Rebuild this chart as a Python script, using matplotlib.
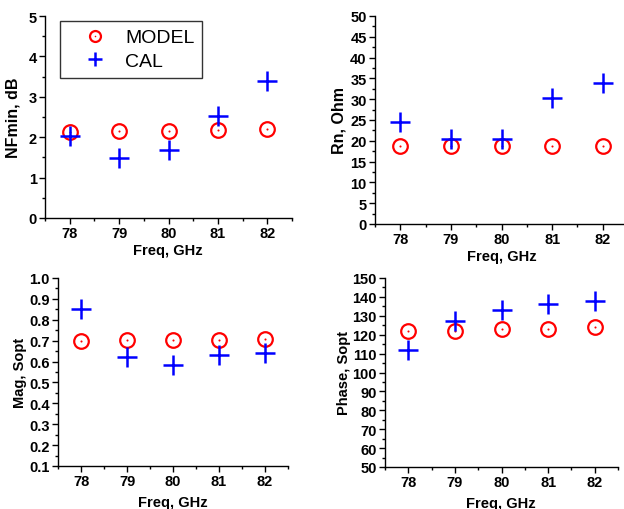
import matplotlib
matplotlib.use("Agg")
import matplotlib.pyplot as plt
from matplotlib.ticker import MultipleLocator, FormatStrFormatter

plt.rcParams['font.family'] = ['Liberation Sans', 'DejaVu Sans']
plt.rcParams['font.weight'] = 'bold'

freq = [78, 79, 80, 81, 82]
nf_model = [2.13, 2.15, 2.16, 2.19, 2.21]
nf_cal = [2.02, 1.49, 1.68, 2.53, 3.40]
rn_model = [18.8, 18.8, 18.8, 18.8, 18.8]
rn_cal = [24.5, 20.5, 20.5, 30.4, 34.0]
mag_model = [0.700, 0.703, 0.703, 0.704, 0.708]
mag_cal = [0.852, 0.620, 0.583, 0.630, 0.640]
ph_model = [122.1, 122.1, 123.2, 123.2, 124.1]
ph_cal = [112.1, 127.1, 132.9, 136.1, 138.0]

panels = [
    dict(model=nf_model, cal=nf_cal, ylabel='NFmin, dB', ylim=(0, 5), major=1, minor=0.5, fmt='%d',
         rect=[45/624, 1-219/510, (292-45)/624, 202/510], ylx=13, xly=251, ylsize=11.5),
    dict(model=rn_model, cal=rn_cal, ylabel='Rn, Ohm', ylim=(0, 50), major=5, minor=2.5, fmt='%d',
         rect=[375/624, 1-225/510, (628-375)/624, 208/510], ylx=339, xly=257, ylsize=11.5),
    dict(model=mag_model, cal=mag_cal, ylabel='Mag, Sopt', ylim=(0.1, 1.0), major=0.1, minor=0.05, fmt='%.1f',
         rect=[58/624, 1-467/510, (288-58)/624, 188/510], ylx=20, xly=503, ylsize=10.5),
    dict(model=ph_model, cal=ph_cal, ylabel='Phase, Sopt', ylim=(50, 150), major=10, minor=5, fmt='%d',
         rect=[385/624, 1-468/510, (618-385)/624, 189/510], ylx=344, xly=504, ylsize=10.5),
]
xlabel_x = [168, 502, 173, 501]

fig = plt.figure(figsize=(6.24, 5.10), dpi=100)
for i, p in enumerate(panels):
    ax = fig.add_axes(p['rect'])
    circ, = ax.plot(freq, p['model'], linestyle='none', marker='o', ms=10.5, mfc='none',
                    mec='#ff0000', mew=1.6, clip_on=False)
    dot, = ax.plot(freq, p['model'], linestyle='none', marker='o', ms=1.5, mfc='#ff0000',
                   mec='#ff0000', mew=0, clip_on=False)
    plus, = ax.plot(freq, p['cal'], linestyle='none', marker='+', ms=14, mec='#0000ff',
                    mew=1.8, clip_on=False)
    ax.set_xlim(77.5, 82.5)
    ax.set_ylim(*p['ylim'])
    ax.xaxis.set_major_locator(MultipleLocator(1))
    ax.xaxis.set_minor_locator(MultipleLocator(0.5))
    ax.yaxis.set_major_locator(MultipleLocator(p['major']))
    ax.yaxis.set_minor_locator(MultipleLocator(p['minor']))
    ax.yaxis.set_major_formatter(FormatStrFormatter(p['fmt']))
    ax.spines['top'].set_visible(False)
    ax.spines['right'].set_visible(False)
    for s in ('left', 'bottom'):
        ax.spines[s].set_linewidth(1.0)
    ax.tick_params(which='major', direction='out', length=4, width=1, labelsize=10.5, pad=2)
    ax.tick_params(which='minor', direction='out', length=2, width=1)
    for lab in ax.get_xticklabels() + ax.get_yticklabels():
        lab.set_fontweight('bold')
    fig.text(p['ylx']/624, p['rect'][1] + p['rect'][3]/2,
             p['ylabel'], rotation=90, ha='center', va='center', fontsize=p['ylsize'], fontweight='bold')
    fig.text(xlabel_x[i]/624, 1 - p['xly']/510, 'Freq, GHz', ha='center', va='center',
             fontsize=10.5, fontweight='bold')
    if i == 0:
        leg = fig.legend([(circ, dot), plus], ['MODEL', 'CAL'], loc='upper left',
                         bbox_to_anchor=(60/624, 1-22/510), bbox_transform=fig.transFigure,
                         frameon=True, fancybox=False, edgecolor='#333333', borderaxespad=0,
                         prop=dict(size=14, weight='normal'), handlelength=2.8, handletextpad=0.15,
                         borderpad=0.4, labelspacing=0.3, markerscale=0.75, framealpha=1)
        leg.get_frame().set_linewidth(1.0)

fig.savefig('out.png', dpi=100)
